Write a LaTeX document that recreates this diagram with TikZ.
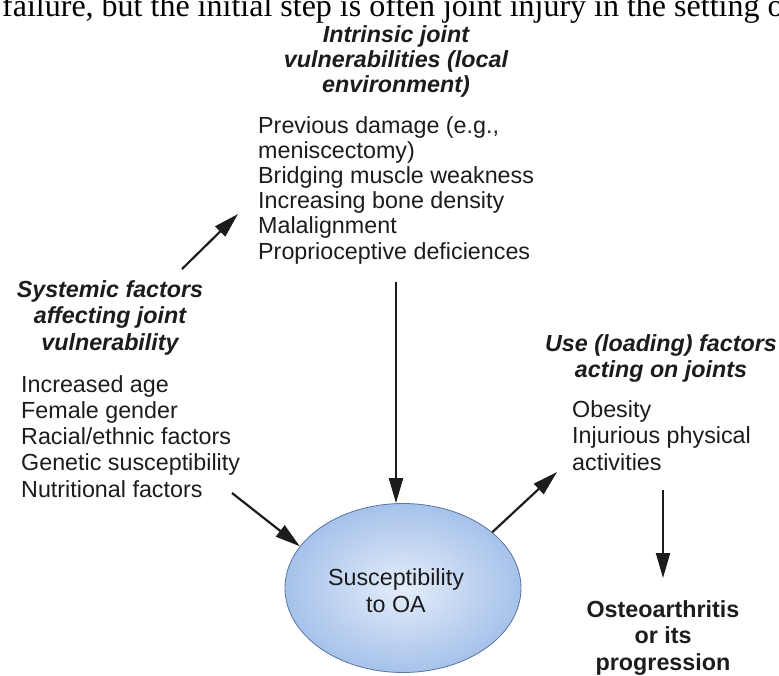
\documentclass[tikz,border=0pt]{standalone}
\usepackage{fontspec}
\setmainfont{Liberation Serif}
\newfontfamily\arialfont{Liberation Sans}
\usetikzlibrary{arrows.meta,shapes.geometric}
\definecolor{ellin}{RGB}{228,237,250}
\definecolor{ellout}{RGB}{166,194,234}
\definecolor{elledge}{RGB}{88,118,160}
\definecolor{ink}{RGB}{28,28,28}
\begin{document}
\begin{tikzpicture}[x=1pt,y=-1pt,
  serif/.style={font=\fontsize{32}{36}\selectfont, inner sep=0pt, text=black},
  head/.style={font=\arialfont\bfseries\itshape\fontsize{23.3}{26}\selectfont, align=center, inner sep=0pt, text=ink},
  body/.style={font=\arialfont\fontsize{23.3}{26.2}\selectfont, align=left, inner sep=0pt, text=ink},
  tightbody/.style={font=\arialfont\fontsize{23.3}{25.2}\selectfont, align=left, inner sep=0pt, text=ink},
  outc/.style={font=\arialfont\bfseries\fontsize{23.3}{26.2}\selectfont, align=center, inner sep=0pt, text=ink},
  arr/.style={line width=2.2pt, draw=ink, -{Triangle[length=25pt,width=14pt]}},
]
\useasboundingbox (0,0) rectangle (779,675);
\clip (0,0) rectangle (779,675);

% cut-off line of the surrounding page (anchor = baseline)
\node[serif, anchor=base west] (topline) at (2,16) {failure, but the initial step is often joint injury in the setting o};

% multi-line nodes: anchor=base is the baseline of the LAST line
% intrinsic vulnerabilities
\node[head, font=\arialfont\bfseries\itshape\fontsize{23.3}{25}\selectfont, anchor=base] (intrh) at (396,92) {Intrinsic joint\\vulnerabilities (local\\environment)};
\node[tightbody, anchor=base west] (intrl) at (258,259) {Previous damage (e.g.,\\meniscectomy)\\Bridging muscle weakness\\Increasing bone density\\Malalignment\\Proprioceptive deficiences};

% systemic factors
\node[head, font=\arialfont\bfseries\itshape\fontsize{23.3}{26.5}\selectfont, anchor=base] (sysh) at (110,350) {Systemic factors\\affecting joint\\vulnerability};
\node[body, anchor=base west] (sysl) at (21,497) {Increased age\\Female gender\\Racial/ethnic factors\\Genetic susceptibility\\Nutritional factors};

% use factors
\node[head, anchor=base] (useh) at (661,377) {Use (loading) factors\\acting on joints};
\node[body, anchor=base west] (usel) at (572,470) {Obesity\\Injurious physical\\activities};

% outcome
\node[outc, anchor=base] (outc) at (663,670) {Osteoarthritis\\or its\\progression};

% susceptibility ellipse
\node[ellipse, minimum width=236pt, minimum height=169pt, inner sep=0pt,
      draw=elledge, line width=0.8pt, inner color=ellin, outer color=ellout] (ell) at (403,588) {};
\node[body, font=\arialfont\fontsize{23.3}{27}\selectfont, align=center, anchor=base] (ellt) at (396,612) {Susceptibility\\to OA};

% connectors
\coordinate (a1s) at (182,269);
\coordinate (a1e) at (238,214);
\draw[arr] (a1s) -- (a1e);

\coordinate (a2s) at (396,282);
\draw[arr] (a2s) -- (a2s |- ell.north);

\coordinate (a3s) at (232,493);
\draw[arr] (a3s) -- (ell.158);

\coordinate (a4e) at (557,472);
\draw[arr] (ell.32) -- (a4e);

\coordinate (a5s) at (663,490);
\coordinate (a5e) at (663,578);
\draw[arr, line width=2pt] (a5s) -- (a5e);
\end{tikzpicture}
\end{document}
